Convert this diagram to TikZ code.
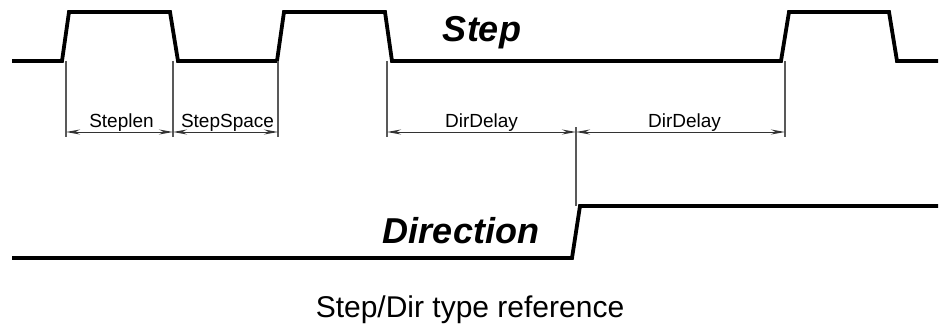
\documentclass[tikz,border=0pt]{standalone}
\usepackage{fontspec}
\setmainfont{Liberation Sans}
\usetikzlibrary{arrows.meta}
\newcommand{\dimtip}{Stealth[length=14pt,width=5pt]}
\newcommand{\foot}[2]{
coordinate (#1top) at (#2,61) coordinate (#1) at (#2,132) coordinate (#1bot) at (#2,137)
}

\tikzset{
  signal/.style={line width=3.8pt},
  extline/.style={line width=1.1pt, black!65},
  dimline/.style={line width=1pt, black!80, {\dimtip}-{\dimtip}},
  dimlabel/.style={anchor=base, inner sep=0, text=black, font=\fontsize{19}{22}\selectfont, yshift=4pt},
  signame/.style={anchor=base, inner sep=0, font=\fontsize{36}{40}\selectfont\bfseries\itshape}
}

\begin{document}
\begin{tikzpicture}[x=1pt, y=-1pt]
\useasboundingbox (0,0) rectangle (940,329);
% step and direction signals
\draw[signal] (12,61) -- (62,61) -- (69,12) -- (170,12) -- (178,61) -- (277,61) -- (284,12)
  -- (385,12) -- (392,61) -- (781,61) -- (789,12) -- (889,12) -- (897,61) -- (938,61);
\draw[signal] (12,258) -- (572,258) -- (580,206) -- (938,206);
\node[signame] (step) at (482,42) {Step};
\node[signame] (dir) at (461,243) {Direction};
% extension lines
\path \foot{a}{66} \foot{b}{173} \foot{c}{278} \foot{d}{387} \foot{f}{785};
\coordinate (e) at (576,132);
\coordinate (etop) at (576,127);
\coordinate (ebot) at (576,206);
\foreach \p in {a,b,c,d,f}
  \draw[extline] (\p top) -- (\p bot);
\draw[extline] (etop) -- (ebot);
% dimensions
\draw[dimline] (a) -- (b) node[dimlabel, midway, xshift=2pt] (steplen) {Steplen};
\draw[dimline] (b) -- (c) node[dimlabel, midway, xshift=2pt] (stepspace) {StepSpace};
\draw[dimline] (d) -- (e) node[dimlabel, midway] (dirdelay1) {DirDelay};
\draw[dimline] (e) -- (f) node[dimlabel, midway, xshift=4pt] (dirdelay2) {DirDelay};
\node[anchor=base, inner sep=0, font=\fontsize{30}{34}\selectfont] (caption) at (470,317) {Step/Dir type reference};
\end{tikzpicture}
\end{document}
